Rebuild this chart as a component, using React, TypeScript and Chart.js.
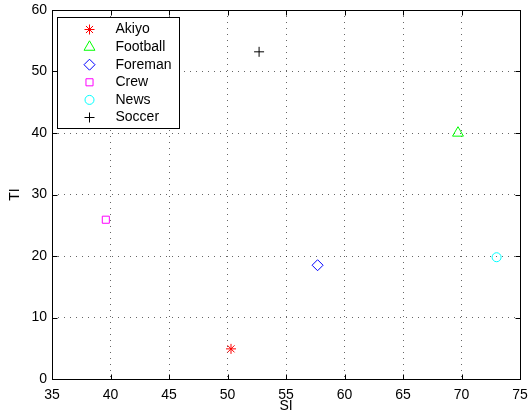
import React, { useEffect, useRef } from 'react';
import { Chart, registerables } from 'chart.js';
import { drawPoint } from 'chart.js/helpers';

Chart.register(...registerables);

const seriesNames = ['Akiyo', 'Football', 'Foreman', 'Crew', 'News', 'Soccer'];
const siValues = [50.3, 69.7, 57.7, 39.6, 73.0, 52.7];
const tiValues = [4.9, 40.0, 18.5, 25.9, 19.8, 53.2];
const seriesColors = ['#ff0000', '#00ff00', '#0000ff', '#ff00ff', '#00ffff', '#000000'];
const markerStyles = ['star', 'triangle', 'rectRot', 'rect', 'circle', 'cross'];
const markerRadii = [5, 6.3, 5.5, 5, 4.5, 5];
const xRange = [35, 75];
const yRange = [0, 60];
const xStep = 5;
const yStep = 10;

const FONT = '"Liberation Sans", Arial, Helvetica, sans-serif';

const framePlugin = {
  id: 'matlabFrame',
  afterDraw(chart: any) {
    const { ctx, chartArea } = chart;
    const { left, right, top, bottom } = chartArea;
    const xs = chart.scales.x;
    const ys = chart.scales.y;
    ctx.save();
    ctx.strokeStyle = '#000';
    ctx.lineWidth = 1;
    ctx.setLineDash([]);
    const L = Math.round(left) + 0.5;
    const R = Math.round(right) + 0.5;
    const T = Math.round(top) + 0.5;
    const B = Math.round(bottom) + 0.5;
    ctx.strokeRect(L, T, R - L, B - T);
    const tl = 5;
    ctx.beginPath();
    xs.ticks.forEach((t: any) => {
      const px = Math.round(xs.getPixelForValue(t.value)) + 0.5;
      ctx.moveTo(px, B);
      ctx.lineTo(px, B - tl);
      ctx.moveTo(px, T);
      ctx.lineTo(px, T + tl);
    });
    ys.ticks.forEach((t: any) => {
      const py = Math.round(ys.getPixelForValue(t.value)) + 0.5;
      ctx.moveTo(L, py);
      ctx.lineTo(L + tl, py);
      ctx.moveTo(R, py);
      ctx.lineTo(R - tl, py);
    });
    ctx.stroke();

    // legend
    const bx = Math.round(left) + 5.5;
    const by = Math.round(top) + 7.5;
    const bw = 122;
    const bh = 111;
    ctx.fillStyle = '#fff';
    ctx.fillRect(bx, by, bw, bh);
    ctx.strokeStyle = '#000';
    ctx.strokeRect(bx, by, bw, bh);
    const rowH = 17.6;
    chart.data.datasets.forEach((ds: any, i: number) => {
      const cy = by + 12 + i * rowH;
      ctx.strokeStyle = ds.borderColor;
      ctx.fillStyle = 'rgba(0,0,0,0)';
      ctx.lineWidth = 1;
      drawPoint(ctx, { pointStyle: ds.pointStyle, radius: ds.pointRadius, borderWidth: 1, rotation: 0 } as any, bx + 32, cy);
      ctx.fillStyle = '#000';
      ctx.font = '14px ' + FONT;
      ctx.textBaseline = 'middle';
      ctx.textAlign = 'left';
      ctx.fillText(ds.label, bx + 58, cy);
    });
    ctx.restore();
  },
};

export default function App() {
  const ref = useRef<HTMLCanvasElement>(null);
  useEffect(() => {
    document.body.style.margin = '0';
    const chart = new Chart(ref.current as HTMLCanvasElement, {
      type: 'scatter',
      data: {
        datasets: seriesNames.map((name, i) => ({
          label: name,
          data: [{ x: siValues[i], y: tiValues[i] }],
          pointStyle: markerStyles[i] as any,
          pointRadius: markerRadii[i],
          pointHoverRadius: markerRadii[i],
          borderColor: seriesColors[i],
          backgroundColor: 'rgba(0,0,0,0)',
          pointBorderWidth: 1,
        })),
      },
      options: {
        animation: false,
        responsive: false,
        layout: { padding: { top: 10, right: 8, left: 0, bottom: 0 } },
        plugins: { legend: { display: false }, tooltip: { enabled: false } },
        scales: {
          x: {
            type: 'linear',
            min: xRange[0],
            max: xRange[1],
            afterFit: (s: any) => { s.height = 36; s.paddingLeft = 0; s.paddingRight = 0; },
            ticks: { stepSize: xStep, padding: 8, color: '#000', font: { family: FONT, size: 14 } },
            grid: { color: 'rgba(0,0,0,0.6)', lineWidth: 1, drawTicks: false },
            border: { display: false, dash: [1, 5] },
            title: { display: true, text: 'SI', color: '#000', font: { family: FONT, size: 14 }, padding: { top: 0, bottom: 0 } },
          },
          y: {
            type: 'linear',
            min: yRange[0],
            max: yRange[1],
            afterFit: (s: any) => { s.width = 52; s.paddingTop = 0; s.paddingBottom = 0; },
            ticks: { stepSize: yStep, padding: 5, color: '#000', font: { family: FONT, size: 14 } },
            grid: { color: 'rgba(0,0,0,0.6)', lineWidth: 1, drawTicks: false },
            border: { display: false, dash: [1, 5] },
            title: { display: true, text: 'TI', color: '#000', font: { family: FONT, size: 14 }, padding: { top: 7, bottom: 0 } },
          },
        },
      },
      plugins: [framePlugin],
    });
    return () => chart.destroy();
  }, []);
  return (
    <div style={{ width: 528, height: 415 }}>
      <canvas ref={ref} width={528} height={415} style={{ display: 'block' }} />
    </div>
  );
}
